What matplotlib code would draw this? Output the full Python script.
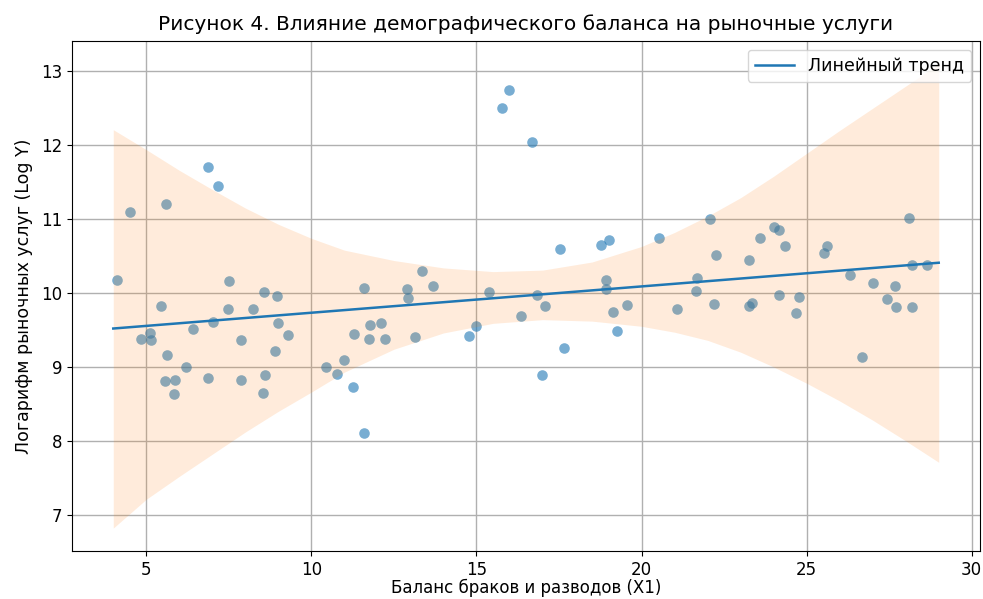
import numpy as np
import matplotlib
matplotlib.use("Agg")
import matplotlib.pyplot as plt

# ---- scatter points: balance of marriages/divorces vs log of market services
balance_x = [
    6.88, 7.18, 4.51, 5.59, 4.12, 7.51, 5.44, 7.47, 7.03, 6.42, 5.11, 4.84, 5.14,
    7.86, 5.62, 6.20, 5.58, 5.87, 6.88, 7.87, 5.84,
    8.57, 8.95, 8.24, 8.98, 9.29, 8.89, 8.61, 8.53, 11.59, 11.77, 12.10, 11.28,
    11.76, 12.22, 11.00, 10.45, 10.77, 11.26, 11.59,
    12.91, 12.94, 13.35, 13.69, 13.13,
    14.77, 14.98, 15.38, 16.35, 16.83, 17.09, 16.97, 17.64, 18.92, 18.93, 19.15,
    19.56, 19.26,
    15.97, 15.77, 16.67, 17.54, 18.78, 19.00,
    20.54, 22.06, 22.26, 21.67, 21.65, 21.08, 22.19, 23.24, 23.60, 24.01, 24.17,
    24.35, 23.26, 23.35, 24.17, 24.77, 24.68, 25.54, 25.62, 26.32, 27.00, 27.68,
    27.44, 27.72, 28.20, 28.10, 28.20, 28.63, 26.69,
]
log_y = [
    11.70, 11.45, 11.10, 11.20, 10.17, 10.16, 9.83, 9.79, 9.61, 9.52, 9.46, 9.38, 9.37,
    9.36, 9.16, 9.00, 8.81, 8.82, 8.85, 8.83, 8.63,
    10.01, 9.96, 9.79, 9.59, 9.43, 9.22, 8.89, 8.65, 10.07, 9.57, 9.59, 9.44,
    9.38, 9.38, 9.10, 9.00, 8.90, 8.73, 8.11,
    10.05, 9.93, 10.30, 10.09, 9.41,
    9.42, 9.56, 10.02, 9.69, 9.98, 9.83, 8.89, 9.26, 10.17, 10.06, 9.74,
    9.84, 9.48,
    12.75, 12.50, 12.05, 10.60, 10.65, 10.72,
    10.75, 11.00, 10.51, 10.21, 10.03, 9.78, 9.85, 10.45, 10.75, 10.90, 10.85,
    10.63, 9.82, 9.86, 9.98, 9.95, 9.73, 10.54, 10.64, 10.24, 10.13, 10.09,
    9.92, 9.81, 9.81, 11.02, 10.38, 10.38, 9.14,
]

# ---- linear trend (end points)
trend_x = [4, 29]
trend_y = [9.52, 10.41]

# ---- shaded interval
band_x = [4, 5, 6, 7, 8, 9, 10, 11, 12.5, 14, 15.5, 17, 18.5, 20, 21, 22, 23, 24,
          25, 26, 27, 28, 29]
band_hi = [12.21, 11.94, 11.66, 11.40, 11.15, 10.93, 10.74, 10.58, 10.44, 10.34, 10.29,
           10.31, 10.42, 10.63, 10.82, 11.04, 11.29, 11.58, 11.89, 12.20, 12.50, 12.80,
           13.10]
band_lo = [6.82, 7.21, 7.52, 7.82, 8.12, 8.40, 8.66, 8.93, 9.24, 9.46, 9.59,
           9.64, 9.62, 9.55, 9.47, 9.36, 9.20, 9.00, 8.78, 8.54, 8.28, 8.00,
           7.71]

fig = plt.figure(figsize=(9.83, 5.99), dpi=100)
ax = fig.add_axes([72 / 983, 48 / 599, 908 / 983, 510 / 599])

ax.scatter(balance_x, log_y, s=58, color="C0", alpha=0.6, linewidths=0, zorder=2)
ax.fill_between(band_x, band_lo, band_hi, color="C1", alpha=0.15, linewidth=0, zorder=3)
ax.plot(trend_x, trend_y, color="C0", lw=1.8, label="Линейный тренд", zorder=4)

ax.set_xlim(2.75, 30.25)
ax.set_ylim(6.51, 13.41)
ax.grid(True, color="#b0b0b0", lw=1)
ax.set_axisbelow(True)
ax.tick_params(labelsize=12)

ax.set_title("Рисунок 4. Влияние демографического баланса на рыночные услуги",
             fontsize=14.5, pad=8)
ax.set_xlabel("Баланс браков и разводов (X1)", fontsize=12, labelpad=0)
ax.set_ylabel("Логарифм рыночных услуг (Log Y)", fontsize=12.5, labelpad=6)
ax.legend(loc="upper right", fontsize=12.5, handlelength=2.3)

fig.savefig("out.png", dpi=100)
